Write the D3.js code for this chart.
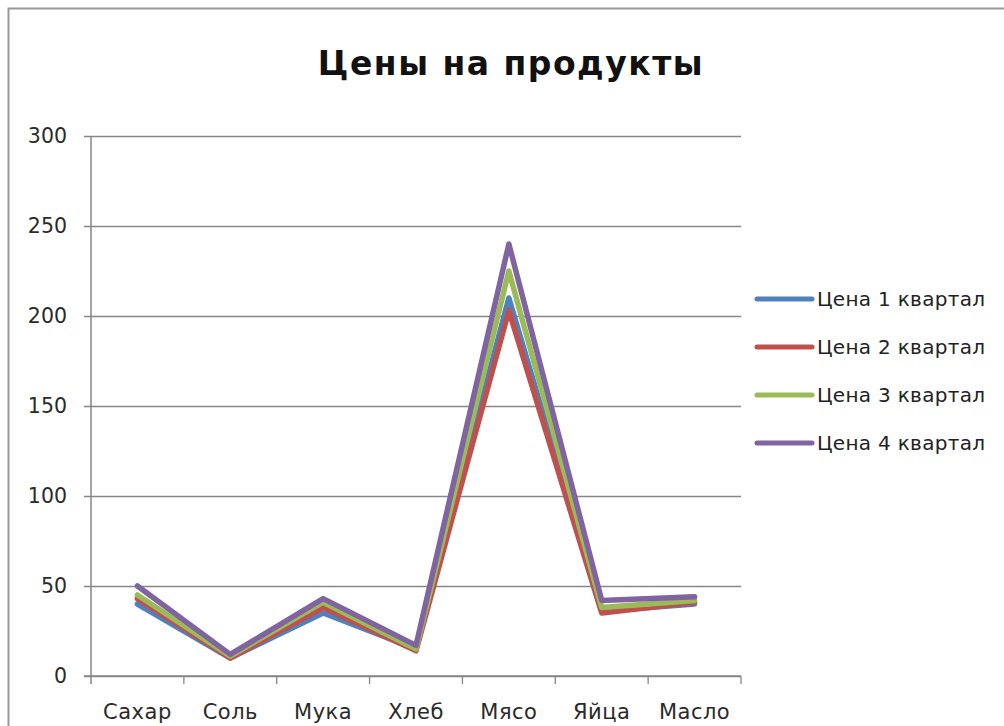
<!DOCTYPE html>
<html>
<head>
<meta charset="utf-8">
<script src="https://cdn.jsdelivr.net/npm/d3@7"></script>
<style>
  html, body { margin: 0; padding: 0; background: #ffffff; }
  svg { display: block; }
</style>
</head>
<body>
<svg id="chart" width="1004" height="726"></svg>
<script>
// Product price chart data
const categories = ["Сахар", "Соль", "Мука", "Хлеб", "Мясо", "Яйца", "Масло"];
const seriesNames = ["Цена 1 квартал", "Цена 2 квартал", "Цена 3 квартал", "Цена 4 квартал"];
const q1 = [40, 10, 35, 15, 210, 36, 40];
const q2 = [43, 10, 38, 14, 203, 35, 41];
const q3 = [45, 11, 41, 15, 225, 38, 42];
const q4 = [50, 12, 43, 17, 240, 42, 44];
const yTicks = [0, 50, 100, 150, 200, 250, 300];
const colors = ["#4F81BD", "#C0504D", "#9BBB59", "#8064A2"];

const seriesValues = [q1, q2, q3, q4];
const series = seriesNames.map((name, i) => ({ name, values: seriesValues[i], color: colors[i] }));

const svg = d3.select("#chart");
const font = "'DejaVu Sans', Verdana, sans-serif";

// Outer chart frame
svg.append("path")
  .attr("d", "M8.5,730 L8.5,8.5 L1010,8.5")
  .attr("fill", "none")
  .attr("stroke", "#9a9a9a")
  .attr("stroke-width", 2);

// Plot area
const plot = { left: 91, right: 741, top: 136, bottom: 676 };

const x = d3.scaleBand().domain(categories).range([plot.left, plot.right]).padding(0);
const y = d3.scaleLinear().domain([0, 300]).range([plot.bottom, plot.top]);

// Horizontal gridlines with ticks on the value axis
const yAxis = d3.axisLeft(y)
  .tickValues(yTicks)
  .tickSize(-(plot.right - plot.left))
  .tickSizeOuter(0)
  .tickPadding(16)
  .tickFormat(d3.format("d"));

const gy = svg.append("g")
  .attr("transform", `translate(${plot.left},0)`)
  .call(yAxis);
gy.select(".domain").remove();
gy.selectAll(".tick line")
  .attr("x1", -7)
  .attr("stroke", "#868686")
  .attr("stroke-width", 1.3);
gy.selectAll(".tick text")
  .attr("x", -24)
  .attr("font-family", font)
  .attr("font-size", 20.5)
  .attr("fill", "#2a2a2a");

// Vertical value axis line
svg.append("line")
  .attr("x1", plot.left).attr("x2", plot.left)
  .attr("y1", plot.top).attr("y2", plot.bottom + 8)
  .attr("stroke", "#868686")
  .attr("stroke-width", 1.5);

// Category axis: line, boundary ticks and labels
const gx = svg.append("g")
  .attr("transform", `translate(0,${plot.bottom})`);
gx.append("line")
  .attr("x1", plot.left - 7).attr("x2", plot.right)
  .attr("stroke", "#868686")
  .attr("stroke-width", 1.5);
const boundaries = categories.map(c => x(c)).concat([x(categories[categories.length - 1]) + x.bandwidth()]);
gx.selectAll("line.cat-tick")
  .data(boundaries.slice(1))
  .join("line")
  .attr("class", "cat-tick")
  .attr("x1", d => d).attr("x2", d => d)
  .attr("y1", 0).attr("y2", 8)
  .attr("stroke", "#868686")
  .attr("stroke-width", 1.3);
gx.selectAll("text")
  .data(categories)
  .join("text")
  .attr("x", d => x(d) + x.bandwidth() / 2)
  .attr("y", 43)
  .attr("text-anchor", "middle")
  .attr("font-family", font)
  .attr("font-size", 21)
  .attr("letter-spacing", 0.5)
  .attr("fill", "#2a2a2a")
  .text(d => d);

// Price lines
const line = d3.line()
  .x((d, i) => x(categories[i]) + x.bandwidth() / 2)
  .y(d => y(d));

svg.append("g")
  .selectAll("path")
  .data(series)
  .join("path")
  .attr("d", d => line(d.values))
  .attr("fill", "none")
  .attr("stroke", d => d.color)
  .attr("stroke-width", 5.5)
  .attr("stroke-linejoin", "round")
  .attr("stroke-linecap", "round");

// Title
svg.append("text")
  .attr("x", 511)
  .attr("y", 75)
  .attr("text-anchor", "middle")
  .attr("font-family", font)
  .attr("font-weight", "bold")
  .attr("font-size", 33)
  .attr("letter-spacing", 1.5)
  .attr("fill", "#111")
  .text("Цены на продукты");

// Legend
const legend = svg.append("g")
  .selectAll("g")
  .data(series)
  .join("g")
  .attr("transform", (d, i) => `translate(757,${299 + i * 48})`);
legend.append("line")
  .attr("x1", 0).attr("x2", 55)
  .attr("stroke", d => d.color)
  .attr("stroke-width", 5)
  .attr("stroke-linecap", "round");
legend.append("text")
  .attr("x", 60)
  .attr("y", 7)
  .attr("font-family", font)
  .attr("font-size", 20)
  .attr("letter-spacing", 0.3)
  .attr("fill", "#222")
  .text(d => d.name);
</script>
</body>
</html>
